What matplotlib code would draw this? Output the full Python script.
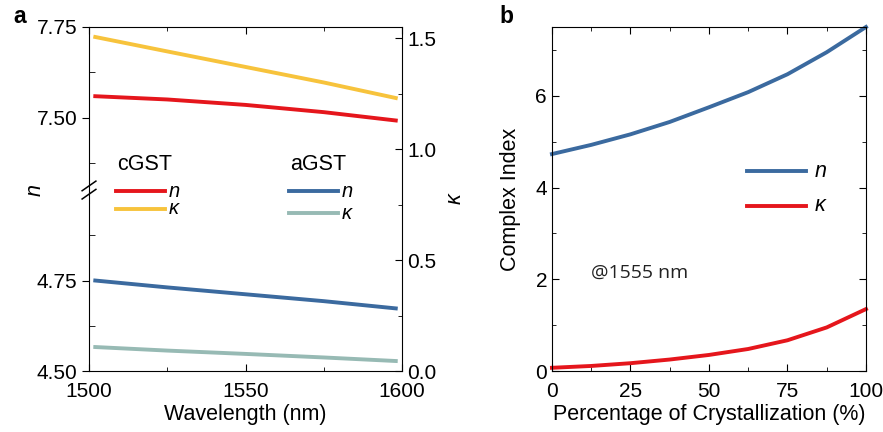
import numpy as np
import matplotlib.pyplot as plt
from matplotlib.ticker import MultipleLocator

plt.rcParams['font.family'] = ['Liberation Sans', 'DejaVu Sans']

# panel a: wavelength dispersion
wavelength = [1502, 1525, 1550, 1575, 1598]
n_cgst = [7.559, 7.550, 7.535, 7.515, 7.492]
k_cgst = [1.505, 1.44, 1.37, 1.30, 1.23]
n_agst = [4.750, 4.731, 4.712, 4.693, 4.673]
k_agst = [0.108, 0.092, 0.077, 0.061, 0.045]

# panel b: index vs crystallization at 1555 nm
crystal = [0, 12.5, 25, 37.5, 50, 62.5, 75, 87.5, 100]
n_mix = [4.73, 4.93, 5.16, 5.43, 5.75, 6.08, 6.47, 6.95, 7.50]
k_mix = [0.07, 0.11, 0.17, 0.25, 0.35, 0.48, 0.67, 0.95, 1.35]

RED = '#e5161c'
YELLOW = '#f7c33c'
BLUE = '#3b6a9f'
GREY = '#97bab4'
FS_TICK = 15
FS_LAB = 15.5
LW = 2.8

fig = plt.figure(figsize=(8.83, 4.32), dpi=100)

# --- panel a ---
L, B, W, H = 0.1008, 0.1412, 0.3545, 0.7963
brk = 0.526  # fraction of height where the n-axis is broken

axk = fig.add_axes([L, B, W, H])
ax_lo = fig.add_axes([L, B, W, H * brk], sharex=axk)
ax_hi = fig.add_axes([L, B + H * brk, W, H * (1 - brk)], sharex=axk)

axk.set_ylim(0, 1.55)
axk.yaxis.tick_right()
axk.yaxis.set_label_position('right')
axk.yaxis.set_major_locator(MultipleLocator(0.5))
axk.yaxis.set_minor_locator(MultipleLocator(0.25))
axk.set_xlim(1500, 1600)
axk.xaxis.set_major_locator(MultipleLocator(50))
axk.xaxis.set_minor_locator(MultipleLocator(25))
axk.tick_params(axis='x', which='both', direction='in', top=True,
                labelsize=FS_TICK, pad=8)
axk.tick_params(axis='y', which='both', direction='in', labelsize=FS_TICK,
                left=False)
axk.tick_params(which='major', length=5)
axk.tick_params(which='minor', length=3)
axk.set_ylabel('κ', fontsize=FS_LAB, style='italic', labelpad=6)
axk.set_xlabel('Wavelength (nm)', fontsize=FS_LAB, labelpad=2)
axk.plot(wavelength, k_cgst, color=YELLOW, lw=LW)
axk.plot(wavelength, k_agst, color=GREY, lw=LW)

for ax, lo, hi in [(ax_hi, 7.30, 7.75), (ax_lo, 4.5, 5.0)]:
    ax.set_ylim(lo, hi)
    ax.patch.set_visible(False)
    for s in ax.spines.values():
        s.set_visible(False)
    ax.yaxis.set_major_formatter(plt.FormatStrFormatter('%.2f'))
    ax.tick_params(axis='x', which='both', bottom=False, labelbottom=False)
    ax.tick_params(axis='y', which='major', direction='out', length=5,
                   labelsize=FS_TICK)
    ax.tick_params(axis='y', which='minor', direction='in', length=4)

ax_hi.plot(wavelength, n_cgst, color=RED, lw=LW)
ax_lo.plot(wavelength, n_agst, color=BLUE, lw=LW)
ax_hi.set_yticks([7.5, 7.75])
ax_lo.set_yticks([4.5, 4.75])
ax_hi.set_yticks([7.375, 7.625], minor=True)
ax_lo.set_yticks([4.625, 4.875], minor=True)

# break marks on left spine
for dy in (-0.012, 0.012):
    axk.plot([-0.022, 0.022], [brk - 0.014 + dy, brk + 0.014 + dy],
             transform=axk.transAxes, color='black', lw=1.1, clip_on=False)

fig.text(0.04, B + H * brk, 'n', fontsize=FS_LAB, style='italic',
         rotation=90, ha='center', va='center')

# panel a legend
tr = axk.transAxes
axk.text(0.089, 0.599, 'cGST', transform=tr, fontsize=FS_LAB, va='center')
axk.text(0.642, 0.599, 'aGST', transform=tr, fontsize=FS_LAB, va='center')
for x0, x1, y, c, lab in [(0.086, 0.243, 0.523, RED, 'n'),
                          (0.086, 0.243, 0.471, YELLOW, 'κ'),
                          (0.639, 0.796, 0.523, BLUE, 'n'),
                          (0.639, 0.796, 0.459, GREY, 'κ')]:
    axk.plot([x0, x1], [y, y], transform=tr, color=c, lw=LW)
    axk.text(x1 + 0.01, y, lab, transform=tr, fontsize=FS_LAB - 1,
             style='italic', va='center')

fig.text(0.022, 0.962, 'a', fontsize=FS_LAB + 1, fontweight='bold',
         ha='center', va='center')

# --- panel b ---
axb = fig.add_axes([0.6251, B, 0.3556, H])
axb.plot(crystal, n_mix, color=BLUE, lw=LW, clip_on=False)
axb.plot(crystal, k_mix, color=RED, lw=LW, clip_on=False)
axb.set_xlim(0, 100)
axb.set_ylim(0, 7.5)
axb.xaxis.set_major_locator(MultipleLocator(25))
axb.xaxis.set_minor_locator(MultipleLocator(12.5))
axb.yaxis.set_major_locator(MultipleLocator(2))
axb.yaxis.set_minor_locator(MultipleLocator(1))
axb.tick_params(axis='both', which='both', direction='in', top=True,
                right=True, labelsize=FS_TICK)
axb.tick_params(axis='x', pad=8)
axb.tick_params(which='major', length=5)
axb.tick_params(which='minor', length=3)
axb.set_xlabel('Percentage of Crystallization (%)', fontsize=FS_LAB,
               labelpad=2)
axb.set_ylabel('Complex Index', fontsize=FS_LAB, labelpad=10)
axb.text(28, 2.14, '@1555 nm', fontsize=14, ha='center', va='center',
         family=['Open Sans', 'DejaVu Sans'], color='#222222')

tb = axb.transAxes
for y, c, lab in [(0.58, BLUE, 'n'), (0.48, RED, 'κ')]:
    axb.plot([0.62, 0.81], [y, y], transform=tb, color=c, lw=LW)
    axb.text(0.835, y, lab, transform=tb, fontsize=FS_LAB,
             style='italic', va='center')

fig.text(0.574, 0.962, 'b', fontsize=FS_LAB + 1, fontweight='bold',
         ha='center', va='center')

fig.savefig('out.png', dpi=100)
